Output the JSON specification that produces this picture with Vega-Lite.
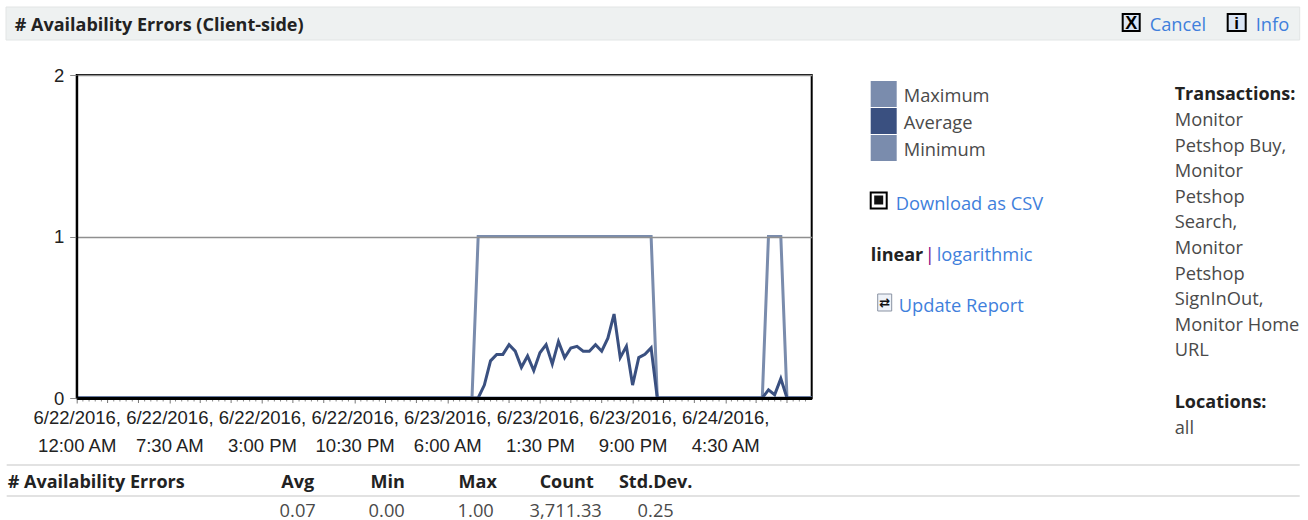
{
"$schema":"https://vega.github.io/schema/vega-lite/v6.json",
"width":735,"height":323,
"autosize":{"type":"none"},
"padding":{"left":76.7,"top":75,"right":496.3,"bottom":122},
"background":"white",
"config":{"view":{"stroke":"#000000","strokeWidth":2},"font":"Open Sans",
 "text":{"font":"Open Sans","fontSize":18.3,"color":"#4a4a4a","align":"left","baseline":"middle"}},
"datasets":{"series":[
{"t":"2016-06-22T00:00:00","s":"Maximum","v":0},
{"t":"2016-06-23T08:00:00","s":"Maximum","v":0},
{"t":"2016-06-23T08:30:00","s":"Maximum","v":1},
{"t":"2016-06-23T22:30:00","s":"Maximum","v":1},
{"t":"2016-06-23T23:00:00","s":"Maximum","v":0},
{"t":"2016-06-24T07:30:00","s":"Maximum","v":0},
{"t":"2016-06-24T08:00:00","s":"Maximum","v":1},
{"t":"2016-06-24T09:00:00","s":"Maximum","v":1},
{"t":"2016-06-24T09:30:00","s":"Maximum","v":0},
{"t":"2016-06-24T11:30:00","s":"Maximum","v":0},
{"t":"2016-06-22T00:00:00","s":"Minimum","v":0},
{"t":"2016-06-24T11:30:00","s":"Minimum","v":0},
{"t":"2016-06-22T00:00:00","s":"Average","v":0},
{"t":"2016-06-23T08:30:00","s":"Average","v":0},
{"t":"2016-06-23T09:00:00","s":"Average","v":0.08},
{"t":"2016-06-23T09:30:00","s":"Average","v":0.23},
{"t":"2016-06-23T10:00:00","s":"Average","v":0.27},
{"t":"2016-06-23T10:30:00","s":"Average","v":0.27},
{"t":"2016-06-23T11:00:00","s":"Average","v":0.33},
{"t":"2016-06-23T11:30:00","s":"Average","v":0.29},
{"t":"2016-06-23T12:00:00","s":"Average","v":0.19},
{"t":"2016-06-23T12:30:00","s":"Average","v":0.26},
{"t":"2016-06-23T13:00:00","s":"Average","v":0.17},
{"t":"2016-06-23T13:30:00","s":"Average","v":0.28},
{"t":"2016-06-23T14:00:00","s":"Average","v":0.33},
{"t":"2016-06-23T14:30:00","s":"Average","v":0.21},
{"t":"2016-06-23T15:00:00","s":"Average","v":0.35},
{"t":"2016-06-23T15:30:00","s":"Average","v":0.25},
{"t":"2016-06-23T16:00:00","s":"Average","v":0.31},
{"t":"2016-06-23T16:30:00","s":"Average","v":0.32},
{"t":"2016-06-23T17:00:00","s":"Average","v":0.29},
{"t":"2016-06-23T17:30:00","s":"Average","v":0.29},
{"t":"2016-06-23T18:00:00","s":"Average","v":0.33},
{"t":"2016-06-23T18:30:00","s":"Average","v":0.29},
{"t":"2016-06-23T19:00:00","s":"Average","v":0.37},
{"t":"2016-06-23T19:30:00","s":"Average","v":0.52},
{"t":"2016-06-23T20:00:00","s":"Average","v":0.25},
{"t":"2016-06-23T20:30:00","s":"Average","v":0.32},
{"t":"2016-06-23T21:00:00","s":"Average","v":0.08},
{"t":"2016-06-23T21:30:00","s":"Average","v":0.25},
{"t":"2016-06-23T22:00:00","s":"Average","v":0.27},
{"t":"2016-06-23T22:30:00","s":"Average","v":0.31},
{"t":"2016-06-23T23:00:00","s":"Average","v":0},
{"t":"2016-06-24T07:30:00","s":"Average","v":0},
{"t":"2016-06-24T08:00:00","s":"Average","v":0.05},
{"t":"2016-06-24T08:30:00","s":"Average","v":0.02},
{"t":"2016-06-24T09:00:00","s":"Average","v":0.12},
{"t":"2016-06-24T09:30:00","s":"Average","v":0},
{"t":"2016-06-24T11:30:00","s":"Average","v":0}
],
"majorTicks":[{"t":"2016-06-22T02:30:00"},{"t":"2016-06-22T05:00:00"},{"t":"2016-06-22T10:00:00"},{"t":"2016-06-22T12:30:00"},{"t":"2016-06-22T17:30:00"},{"t":"2016-06-22T20:00:00"},{"t":"2016-06-23T01:00:00"},{"t":"2016-06-23T03:30:00"},{"t":"2016-06-23T08:30:00"},{"t":"2016-06-23T11:00:00"},{"t":"2016-06-23T16:00:00"},{"t":"2016-06-23T18:30:00"},{"t":"2016-06-23T23:30:00"},{"t":"2016-06-24T02:00:00"},{"t":"2016-06-24T07:00:00"},{"t":"2016-06-24T09:30:00"}],
"minorTicks":[
{"t":"2016-06-22T00:30:00"},{"t":"2016-06-22T01:00:00"},{"t":"2016-06-22T01:30:00"},{"t":"2016-06-22T02:00:00"},{"t":"2016-06-22T03:00:00"},{"t":"2016-06-22T03:30:00"},{"t":"2016-06-22T04:00:00"},{"t":"2016-06-22T04:30:00"},{"t":"2016-06-22T05:30:00"},{"t":"2016-06-22T06:00:00"},{"t":"2016-06-22T06:30:00"},{"t":"2016-06-22T07:00:00"},
{"t":"2016-06-22T08:00:00"},{"t":"2016-06-22T08:30:00"},{"t":"2016-06-22T09:00:00"},{"t":"2016-06-22T09:30:00"},{"t":"2016-06-22T10:30:00"},{"t":"2016-06-22T11:00:00"},{"t":"2016-06-22T11:30:00"},{"t":"2016-06-22T12:00:00"},{"t":"2016-06-22T13:00:00"},{"t":"2016-06-22T13:30:00"},{"t":"2016-06-22T14:00:00"},{"t":"2016-06-22T14:30:00"},
{"t":"2016-06-22T15:30:00"},{"t":"2016-06-22T16:00:00"},{"t":"2016-06-22T16:30:00"},{"t":"2016-06-22T17:00:00"},{"t":"2016-06-22T18:00:00"},{"t":"2016-06-22T18:30:00"},{"t":"2016-06-22T19:00:00"},{"t":"2016-06-22T19:30:00"},{"t":"2016-06-22T20:30:00"},{"t":"2016-06-22T21:00:00"},{"t":"2016-06-22T21:30:00"},{"t":"2016-06-22T22:00:00"},
{"t":"2016-06-22T23:00:00"},{"t":"2016-06-22T23:30:00"},{"t":"2016-06-23T00:00:00"},{"t":"2016-06-23T00:30:00"},{"t":"2016-06-23T01:30:00"},{"t":"2016-06-23T02:00:00"},{"t":"2016-06-23T02:30:00"},{"t":"2016-06-23T03:00:00"},{"t":"2016-06-23T04:00:00"},{"t":"2016-06-23T04:30:00"},{"t":"2016-06-23T05:00:00"},{"t":"2016-06-23T05:30:00"},
{"t":"2016-06-23T06:30:00"},{"t":"2016-06-23T07:00:00"},{"t":"2016-06-23T07:30:00"},{"t":"2016-06-23T08:00:00"},{"t":"2016-06-23T09:00:00"},{"t":"2016-06-23T09:30:00"},{"t":"2016-06-23T10:00:00"},{"t":"2016-06-23T10:30:00"},{"t":"2016-06-23T11:30:00"},{"t":"2016-06-23T12:00:00"},{"t":"2016-06-23T12:30:00"},{"t":"2016-06-23T13:00:00"},
{"t":"2016-06-23T14:00:00"},{"t":"2016-06-23T14:30:00"},{"t":"2016-06-23T15:00:00"},{"t":"2016-06-23T15:30:00"},{"t":"2016-06-23T16:30:00"},{"t":"2016-06-23T17:00:00"},{"t":"2016-06-23T17:30:00"},{"t":"2016-06-23T18:00:00"},{"t":"2016-06-23T19:00:00"},{"t":"2016-06-23T19:30:00"},{"t":"2016-06-23T20:00:00"},{"t":"2016-06-23T20:30:00"},
{"t":"2016-06-23T21:30:00"},{"t":"2016-06-23T22:00:00"},{"t":"2016-06-23T22:30:00"},{"t":"2016-06-23T23:00:00"},{"t":"2016-06-24T00:00:00"},{"t":"2016-06-24T00:30:00"},{"t":"2016-06-24T01:00:00"},{"t":"2016-06-24T01:30:00"},{"t":"2016-06-24T02:30:00"},{"t":"2016-06-24T03:00:00"},{"t":"2016-06-24T03:30:00"},{"t":"2016-06-24T04:00:00"},
{"t":"2016-06-24T05:00:00"},{"t":"2016-06-24T05:30:00"},{"t":"2016-06-24T06:00:00"},{"t":"2016-06-24T06:30:00"},{"t":"2016-06-24T07:30:00"},{"t":"2016-06-24T08:00:00"},{"t":"2016-06-24T08:30:00"},{"t":"2016-06-24T09:00:00"},{"t":"2016-06-24T10:00:00"},{"t":"2016-06-24T10:30:00"},{"t":"2016-06-24T11:00:00"}
]},
"layer":[
{"data":{"values":[{}]},"mark":{"type":"rect","fill":"#eef1f1","stroke":"#e2e5e5","strokeWidth":1},
 "encoding":{"x":{"value":-70.7},"x2":{"value":1223},"y":{"value":-68},"y2":{"value":-35}}},
{"data":{"values":[{}]},"mark":{"type":"rule","stroke":"#d8d8d8","strokeWidth":1.5},
 "encoding":{"x":{"value":-70},"x2":{"value":1223},"y":{"value":390}}},
{"data":{"values":[{}]},"mark":{"type":"rule","stroke":"#d8d8d8","strokeWidth":1.5},
 "encoding":{"x":{"value":-70},"x2":{"value":1223},"y":{"value":421}}},
{"data":{"name":"minorTicks"},"mark":{"type":"rule","stroke":"#888888","strokeWidth":1},
 "encoding":{"x":{"field":"t","type":"temporal"},"y":{"value":323},"y2":{"value":326.5}}},
{"data":{"name":"majorTicks"},"mark":{"type":"rule","stroke":"#777777","strokeWidth":1},
 "encoding":{"x":{"field":"t","type":"temporal"},"y":{"value":323},"y2":{"value":328}}},
{"data":{"name":"series"},"mark":{"type":"line","strokeWidth":3,"interpolate":"linear"},
 "encoding":{
  "x":{"field":"t","type":"temporal","scale":{"domain":[{"year":2016,"month":6,"date":22,"hours":0},{"year":2016,"month":6,"date":24,"hours":11,"minutes":30}]},"title":null,
   "axis":{"values":[
    {"year":2016,"month":6,"date":22,"hours":0},{"year":2016,"month":6,"date":22,"hours":7,"minutes":30},{"year":2016,"month":6,"date":22,"hours":15},{"year":2016,"month":6,"date":22,"hours":22,"minutes":30},
    {"year":2016,"month":6,"date":23,"hours":6},{"year":2016,"month":6,"date":23,"hours":13,"minutes":30},{"year":2016,"month":6,"date":23,"hours":21},{"year":2016,"month":6,"date":24,"hours":4,"minutes":30}],
    "labelExpr":"[timeFormat(datum.value,'%-m/%-d/%Y,'),timeFormat(datum.value,'%-I:%M %p')]",
    "labelFont":"Liberation Sans","labelFontSize":18.5,"labelColor":"#222222","labelLineHeight":28.5,"labelOverlap":false,"labelBound":false,"labelFlush":false,"labelPadding":5,"labelAngle":0,"labelBaseline":"top",
    "tickSize":5,"tickColor":"#777777","tickWidth":1,"domainColor":"#000000","domainWidth":3,"grid":false,"zindex":1}},
  "y":{"field":"v","type":"quantitative","scale":{"domain":[0,2]},"title":null,
   "axis":{"tickCount":2,"format":"d","grid":true,"gridColor":"#8f8f8f","gridWidth":1.5,"domainColor":"#000000","domainWidth":2,"tickColor":"#888888","tickSize":7,"labelFont":"Liberation Sans","labelFontSize":18.5,"labelColor":"#222222","labelPadding":6,"labelOverlap":false,"zindex":1}},
  "color":{"field":"s","type":"nominal","scale":{"domain":["Maximum","Average","Minimum"],"range":["#7a8cad","#3a5080","#7a8cad"]},
   "legend":{"title":null,"orient":"none","legendX":794,"legendY":6,"symbolType":"square","symbolSize":676,"symbolStrokeWidth":0,"rowPadding":1,"labelOffset":7,"labelFont":"Open Sans","labelFontSize":18.3,"labelColor":"#4a4a4a","padding":0,
    "encode":{"symbols":{"update":{"fill":{"scale":"color","field":"value"},"stroke":{"value":"transparent"},"opacity":{"value":1}}},"labels":{"update":{"dy":{"value":3}}}}}}}},
{"data":{"values":[{}]},"mark":{"type":"text","text":"# Availability Errors (Client-side)","x":-62,"y":-49,"fontWeight":"bold","fontSize":18,"color":"#222222"}},
{"data":{"values":[{}]},"mark":{"type":"text","text":"Cancel","x":1073,"y":-49,"color":"#3f7fdc"}},
{"data":{"values":[{}]},"mark":{"type":"text","text":"Info","x":1179,"y":-49,"color":"#3f7fdc"}},
{"data":{"values":[{}]},"mark":{"type":"text","text":"Download as CSV","x":819,"y":129.5,"color":"#3f7fdc"}},
{"data":{"values":[{}]},"mark":{"type":"text","text":"linear","x":794,"y":181,"fontWeight":"bold","fontSize":18,"color":"#222222"}},
{"data":{"values":[{}]},"mark":{"type":"text","text":"|","x":848,"y":181,"color":"#800080"}},
{"data":{"values":[{}]},"mark":{"type":"text","text":"logarithmic","x":860,"y":181,"color":"#3f7fdc"}},
{"data":{"values":[{}]},"mark":{"type":"text","text":"Update Report","x":822,"y":232,"color":"#3f7fdc"}},
{"data":{"values":[{}]},"mark":{"type":"text","text":"Transactions:","x":1098,"y":20,"fontWeight":"bold","fontSize":18,"color":"#222222"}},
{"data":{"values":[{}]},"mark":{"type":"text","text":["Monitor","Petshop Buy,","Monitor","Petshop","Search,","Monitor","Petshop","SignInOut,","Monitor Home","URL"],"x":1098,"y":46,"lineHeight":25.6}},
{"data":{"values":[{}]},"mark":{"type":"text","text":"Locations:","x":1098,"y":328,"fontWeight":"bold","fontSize":18,"color":"#222222"}},
{"data":{"values":[{}]},"mark":{"type":"text","text":"all","x":1098,"y":354}},
{"data":{"values":[{}]},"mark":{"type":"text","text":"# Availability Errors","x":-69,"y":408,"fontWeight":"bold","fontSize":18,"color":"#222222"}},
{"data":{"values":[{}]},"mark":{"type":"text","text":"Avg","x":221,"y":408,"align":"center","fontWeight":"bold","fontSize":18,"color":"#222222"}},
{"data":{"values":[{}]},"mark":{"type":"text","text":"Min","x":311,"y":408,"align":"center","fontWeight":"bold","fontSize":18,"color":"#222222"}},
{"data":{"values":[{}]},"mark":{"type":"text","text":"Max","x":401,"y":408,"align":"center","fontWeight":"bold","fontSize":18,"color":"#222222"}},
{"data":{"values":[{}]},"mark":{"type":"text","text":"Count","x":490,"y":408,"align":"center","fontWeight":"bold","fontSize":18,"color":"#222222"}},
{"data":{"values":[{}]},"mark":{"type":"text","text":"Std.Dev.","x":579,"y":408,"align":"center","fontWeight":"bold","fontSize":18,"color":"#222222"}},
{"data":{"values":[{}]},"mark":{"type":"text","text":"0.07","x":221,"y":437,"align":"center"}},
{"data":{"values":[{}]},"mark":{"type":"text","text":"0.00","x":310,"y":437,"align":"center"}},
{"data":{"values":[{}]},"mark":{"type":"text","text":"1.00","x":399,"y":437,"align":"center"}},
{"data":{"values":[{}]},"mark":{"type":"text","text":"3,711.33","x":489,"y":437,"align":"center"}},
{"data":{"values":[{}]},"mark":{"type":"text","text":"0.25","x":579,"y":437,"align":"center"}},
{"data":{"values":[{}]},"mark":{"type":"rect","fill":"#dbe6f5","stroke":"#000000","strokeWidth":2},"encoding":{"x":{"value":1046},"x2":{"value":1063},"y":{"value":-61},"y2":{"value":-44}}},
{"data":{"values":[{}]},"mark":{"type":"text","text":"X","x":1054.5,"y":-51.5,"align":"center","fontWeight":"bold","fontSize":18,"font":"Liberation Sans","color":"#000000"}},
{"data":{"values":[{}]},"mark":{"type":"rect","fill":"#dbe6f5","stroke":"#000000","strokeWidth":2},"encoding":{"x":{"value":1151},"x2":{"value":1169},"y":{"value":-61},"y2":{"value":-44}}},
{"data":{"values":[{}]},"mark":{"type":"text","text":"i","x":1160,"y":-51.5,"align":"center","fontWeight":"bold","fontSize":17,"font":"Liberation Sans","color":"#000000"}},
{"data":{"values":[{}]},"mark":{"type":"rect","fill":"#ffffff","stroke":"#000000","strokeWidth":2},"encoding":{"x":{"value":794},"x2":{"value":810},"y":{"value":117.5},"y2":{"value":133.5}}},
{"data":{"values":[{}]},"mark":{"type":"rect","fill":"#111111"},"encoding":{"x":{"value":797.5},"x2":{"value":806.5},"y":{"value":120.5},"y2":{"value":129.5}}},
{"data":{"values":[{}]},"mark":{"type":"rect","fill":"#eef2f8","stroke":"#8a93a3","strokeWidth":1},"encoding":{"x":{"value":801},"x2":{"value":815},"y":{"value":219},"y2":{"value":236}}},
{"data":{"values":[{}]},"mark":{"type":"text","text":"⇄","x":808,"y":227.5,"align":"center","fontSize":13,"font":"DejaVu Sans","fontWeight":"bold","color":"#111111"}}
]
}
